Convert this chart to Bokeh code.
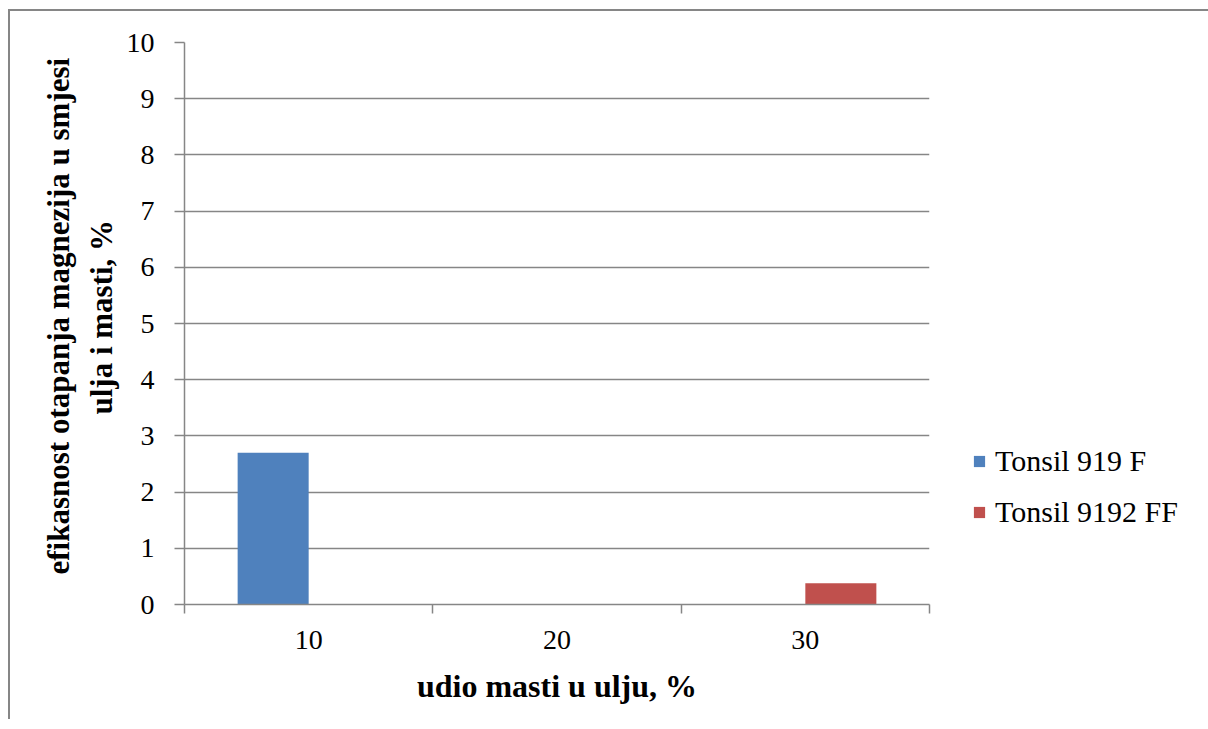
from bokeh.plotting import figure
from bokeh.models import ColumnDataSource, FixedTicker, Range1d, Legend, LegendItem, Title
from bokeh.embed import file_html
from bokeh.resources import INLINE

categories = ["10", "20", "30"]
tonsil_919_f = [2.70, 0.0, -0.02]
tonsil_9192_ff = [-0.02, 0.0, 0.38]
y_ticks = list(range(0, 11))
series_names = ["Tonsil 919 F", "Tonsil 9192 FF"]
colors = ["#4F81BD", "#C0504D"]
x_title = "udio masti u ulju, %"
y_title_lines = ["efikasnost otapanja magnezija u smjesi", "ulja i masti, %"]

FONT = '"Liberation Serif"'
GRAY = "#868686"

centers = [i + 0.5 for i in range(len(categories))]
offset = 0.143
bar_w = 0.286

src = ColumnDataSource(dict(
    xa=[c - offset for c in centers],
    xb=[c + offset for c in centers],
    a=tonsil_919_f,
    b=tonsil_9192_ff,
))

p = figure(frame_width=745, frame_height=562, output_backend="svg", toolbar_location=None,
           x_range=Range1d(0, len(categories)), y_range=Range1d(0, 10),
           min_border_left=174, min_border_right=269, min_border_top=31,
           min_border_bottom=115)
p.styles = {"border-left": f"2px solid {GRAY}", "border-top": f"2px solid {GRAY}",
            "margin-left": "8px", "margin-top": "9px"}
p.outline_line_color = None
p.background_fill_color = "white"
p.border_fill_color = "white"

ra = p.vbar(x="xa", top="a", bottom=0, width=bar_w, source=src,
            fill_color=colors[0], line_color=None)
rb = p.vbar(x="xb", top="b", bottom=0, width=bar_w, source=src,
            fill_color=colors[1], line_color=None)

# x axis
xa = p.xaxis[0]
xa.ticker = FixedTicker(ticks=centers, minor_ticks=list(range(len(categories) + 1)))
xa.major_label_overrides = {c: lab for c, lab in zip(centers, categories)}
xa.major_tick_out = 0
xa.major_tick_in = 0
xa.minor_tick_out = 9
xa.minor_tick_in = 0
xa.minor_tick_line_color = GRAY
xa.minor_tick_line_width = 1.5
xa.axis_line_color = GRAY
xa.axis_line_width = 1.5
xa.major_label_text_font = FONT
xa.major_label_text_font_size = "28px"
xa.major_label_text_color = "black"
xa.major_label_standoff = 17
xa.axis_label = x_title
xa.axis_label_text_font = FONT
xa.axis_label_text_font_size = "32px"
xa.axis_label_text_font_style = "bold"
xa.axis_label_text_color = "black"
xa.axis_label_standoff = 16

# y axis
ya = p.yaxis[0]
ya.ticker = FixedTicker(ticks=y_ticks, minor_ticks=[])
ya.major_tick_out = 10
ya.major_tick_in = 0
ya.major_tick_line_color = GRAY
ya.major_tick_line_width = 1.5
ya.axis_line_color = GRAY
ya.axis_line_width = 1.5
ya.major_label_text_font = FONT
ya.major_label_text_font_size = "28px"
ya.major_label_text_color = "black"
ya.major_label_standoff = 20

for line, so, off in zip(reversed(y_title_lines), [9, 3], [190, 30]):
    t = Title(text=line, align="left", text_font=FONT, text_font_size="31px",
              text_font_style="bold", text_color="black", standoff=so, offset=off)
    p.add_layout(t, "left")

p.xgrid.visible = False
p.ygrid.ticker = FixedTicker(ticks=y_ticks[1:])
p.ygrid.grid_line_color = GRAY
p.ygrid.grid_line_width = 1.5

legend = Legend(items=[LegendItem(label=series_names[0], renderers=[ra]),
                       LegendItem(label=series_names[1], renderers=[rb])],
                location=(43, 75), orientation="vertical")
legend.border_line_color = None
legend.background_fill_alpha = 0
legend.padding = 0
legend.margin = 0
legend.spacing = 17
legend.glyph_width = 14
legend.glyph_height = 14
legend.label_text_font = FONT
legend.label_text_font_size = "30px"
legend.label_text_color = "black"
legend.label_standoff = 9
legend.label_height = 28
p.add_layout(legend, "right")

open("out.html", "w").write(file_html(p, INLINE))
